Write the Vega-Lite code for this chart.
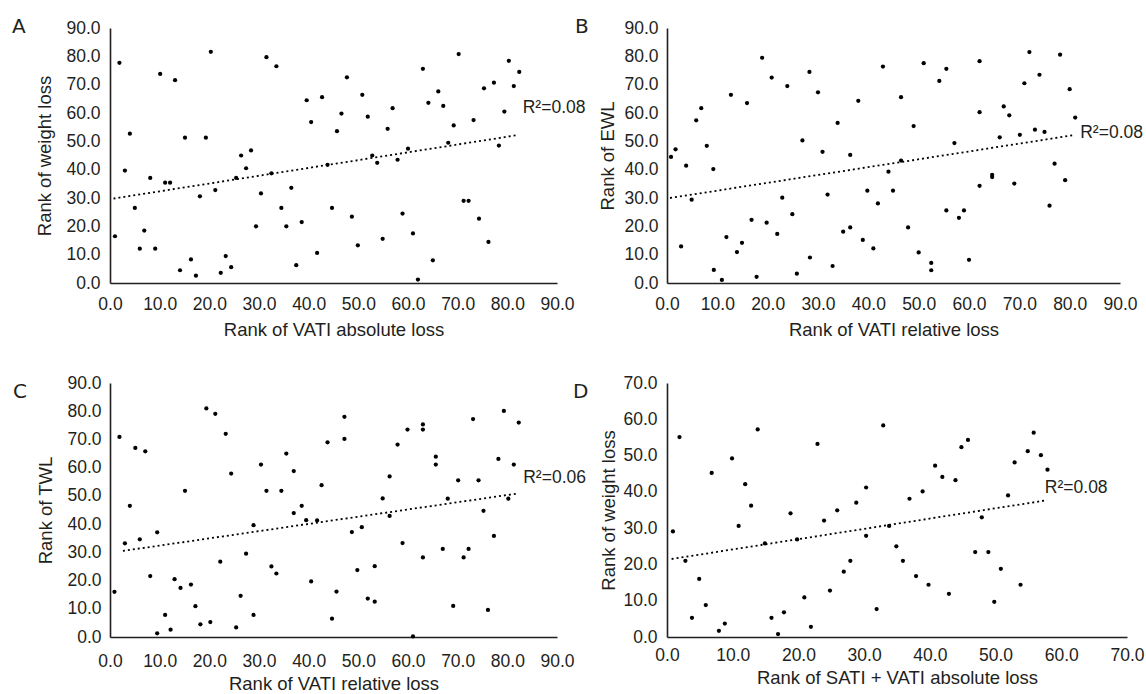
{
  "$schema": "https://vega.github.io/schema/vega-lite/v6.json",
  "autosize": {"type": "pad"},
  "padding": {"left": 12, "top": 17, "right": 0, "bottom": 0},
  "background": "white",
  "config": {
    "view": {"stroke": null},
    "axis": {"domainColor": "#231f20", "domainWidth": 1.6, "ticks": false, "tickSize": 0, "grid": false,
      "labelFont": "Liberation Sans", "labelFontSize": 17.5, "labelColor": "#231f20",
      "titleFont": "Liberation Sans", "titleFontSize": 18.5, "titleFontWeight": "normal", "titleColor": "#231f20",
      "format": ".1f", "labelFlush": false, "labelOverlap": false, "labelBound": false},
    "title": {"anchor": "start", "frame": "group", "font": "DejaVu Sans", "fontSize": 20, "fontWeight": "normal", "color": "#231f20", "offset": 0}
  },
  "datasets": {
    "A": [
      {"x":1.0,"y":16.5},{"x":1.9,"y":77.7},{"x":3.0,"y":39.7},{"x":4.0,"y":52.7},{"x":5.0,"y":26.5},{"x":6.0,"y":12.1},{"x":6.9,"y":18.5},{"x":8.1,"y":37.1},{"x":9.1,"y":12.1},{"x":10.1,"y":73.8},
      {"x":11.1,"y":35.4},{"x":12.1,"y":35.4},{"x":13.1,"y":71.6},{"x":14.1,"y":4.5},{"x":15.1,"y":51.3},{"x":16.3,"y":8.3},{"x":17.3,"y":2.6},{"x":18.1,"y":30.6},{"x":19.3,"y":51.3},{"x":20.3,"y":81.6},
      {"x":21.2,"y":32.8},{"x":22.3,"y":3.6},{"x":23.3,"y":9.5},{"x":24.4,"y":5.6},{"x":25.4,"y":37.1},{"x":26.4,"y":45.0},{"x":27.4,"y":40.5},{"x":28.4,"y":46.8},{"x":29.4,"y":20.0},{"x":30.4,"y":31.6},
      {"x":31.5,"y":79.7},{"x":32.5,"y":38.7},{"x":33.5,"y":76.5},{"x":34.5,"y":26.5},{"x":35.5,"y":20.0},{"x":36.5,"y":33.6},{"x":37.5,"y":6.3},{"x":38.6,"y":21.5},{"x":39.6,"y":64.5},{"x":40.5,"y":56.8},
      {"x":41.7,"y":10.6},{"x":42.7,"y":65.6},{"x":43.8,"y":41.7},{"x":44.7,"y":26.5},{"x":45.7,"y":53.6},{"x":46.6,"y":59.8},{"x":47.7,"y":72.6},{"x":48.7,"y":23.4},{"x":49.9,"y":13.3},{"x":50.8,"y":66.4},
      {"x":51.9,"y":58.7},{"x":52.8,"y":45.0},{"x":53.8,"y":42.4},{"x":54.9,"y":15.6},{"x":55.9,"y":54.4},{"x":56.9,"y":61.7},{"x":57.9,"y":43.5},{"x":58.9,"y":24.5},{"x":60.0,"y":47.4},{"x":61.0,"y":17.5},
      {"x":62.0,"y":1.2},{"x":63.0,"y":75.6},{"x":64.1,"y":63.6},{"x":65.0,"y":8.0},{"x":66.1,"y":67.6},{"x":67.1,"y":62.5},{"x":68.1,"y":49.5},{"x":69.2,"y":55.6},{"x":70.2,"y":80.8},{"x":71.2,"y":29.0},
      {"x":72.2,"y":29.0},{"x":73.2,"y":57.5},{"x":74.3,"y":22.7},{"x":75.3,"y":68.7},{"x":76.2,"y":14.5},{"x":77.3,"y":70.7},{"x":78.3,"y":48.5},{"x":79.4,"y":60.5},{"x":80.3,"y":78.4},{"x":81.3,"y":69.5},
      {"x":82.4,"y":74.5}
    ],
    "A_fit": [{"x":0.7,"y":29.8},{"x":81.7,"y":52.1}],
    "B": [
      {"x":0.8,"y":44.5},{"x":1.7,"y":47.2},{"x":2.8,"y":12.9},{"x":3.8,"y":41.4},{"x":4.9,"y":29.4},{"x":5.8,"y":57.4},{"x":6.8,"y":61.7},{"x":7.9,"y":48.4},{"x":9.2,"y":40.2},{"x":9.3,"y":4.6},
      {"x":10.9,"y":1.1},{"x":11.8,"y":16.2},{"x":12.7,"y":66.4},{"x":13.9,"y":10.9},{"x":14.9,"y":14.2},{"x":15.9,"y":63.5},{"x":16.8,"y":22.3},{"x":17.8,"y":2.2},{"x":18.9,"y":79.5},{"x":19.8,"y":21.3},
      {"x":20.8,"y":72.5},{"x":21.9,"y":17.3},{"x":22.9,"y":30.1},{"x":23.9,"y":69.5},{"x":24.9,"y":24.3},{"x":25.8,"y":3.3},{"x":26.9,"y":50.3},{"x":28.3,"y":74.5},{"x":28.4,"y":9.0},{"x":30.0,"y":67.3},
      {"x":30.9,"y":46.3},{"x":31.9,"y":31.2},{"x":32.9,"y":6.0},{"x":33.9,"y":56.5},{"x":35.0,"y":18.1},{"x":36.4,"y":19.6},{"x":36.4,"y":45.2},{"x":38.0,"y":64.3},{"x":38.9,"y":15.2},{"x":39.8,"y":32.6},
      {"x":41.0,"y":12.2},{"x":41.9,"y":28.1},{"x":42.9,"y":76.4},{"x":44.0,"y":39.3},{"x":44.9,"y":32.6},{"x":46.5,"y":65.6},{"x":46.5,"y":43.2},{"x":47.9,"y":19.6},{"x":49.0,"y":55.4},{"x":50.0,"y":10.8},
      {"x":51.0,"y":77.6},{"x":52.5,"y":7.1},{"x":52.5,"y":4.5},{"x":54.1,"y":71.3},{"x":55.5,"y":25.6},{"x":55.5,"y":75.6},{"x":57.1,"y":49.4},{"x":58.0,"y":23.0},{"x":59.0,"y":25.6},{"x":60.0,"y":8.2},
      {"x":62.1,"y":78.3},{"x":62.1,"y":60.3},{"x":62.1,"y":34.3},{"x":64.6,"y":38.2},{"x":64.6,"y":37.4},{"x":66.1,"y":51.4},{"x":66.9,"y":62.3},{"x":68.0,"y":59.2},{"x":69.0,"y":35.1},{"x":70.1,"y":52.3},
      {"x":71.0,"y":70.5},{"x":72.0,"y":81.5},{"x":73.1,"y":54.1},{"x":74.0,"y":73.5},{"x":75.0,"y":53.3},{"x":76.0,"y":27.3},{"x":77.0,"y":42.1},{"x":78.1,"y":80.6},{"x":79.1,"y":36.3},{"x":80.0,"y":68.4},
      {"x":81.1,"y":58.4}
    ],
    "B_fit": [{"x":0.6,"y":30.0},{"x":80.5,"y":52.1}],
    "C": [
      {"x":0.9,"y":16.0},{"x":1.9,"y":70.9},{"x":3.0,"y":33.2},{"x":4.0,"y":46.5},{"x":5.1,"y":67.0},{"x":6.0,"y":34.6},{"x":7.1,"y":65.8},{"x":8.1,"y":21.6},{"x":9.5,"y":37.1},{"x":9.5,"y":1.3},
      {"x":11.1,"y":7.8},{"x":12.2,"y":2.6},{"x":13.0,"y":20.5},{"x":14.2,"y":17.4},{"x":15.1,"y":51.8},{"x":16.3,"y":18.6},{"x":17.2,"y":10.9},{"x":18.2,"y":4.5},{"x":19.4,"y":81.0},{"x":20.2,"y":5.3},
      {"x":21.2,"y":79.1},{"x":22.2,"y":26.7},{"x":23.3,"y":72.0},{"x":24.4,"y":57.9},{"x":25.4,"y":3.4},{"x":26.3,"y":14.6},{"x":27.4,"y":29.5},{"x":28.9,"y":39.6},{"x":28.9,"y":7.8},{"x":30.4,"y":61.1},
      {"x":31.5,"y":51.8},{"x":32.5,"y":25.0},{"x":33.5,"y":22.5},{"x":34.5,"y":51.8},{"x":35.5,"y":65.0},{"x":37.0,"y":58.8},{"x":37.0,"y":43.9},{"x":38.6,"y":46.5},{"x":39.5,"y":41.4},{"x":40.5,"y":19.7},
      {"x":41.7,"y":41.3},{"x":42.6,"y":53.8},{"x":43.8,"y":69.0},{"x":44.7,"y":6.5},{"x":45.6,"y":16.1},{"x":47.2,"y":78.0},{"x":47.2,"y":70.2},{"x":48.7,"y":37.2},{"x":49.8,"y":23.7},{"x":50.7,"y":38.9},
      {"x":51.9,"y":13.6},{"x":53.3,"y":12.5},{"x":53.3,"y":25.1},{"x":54.9,"y":49.1},{"x":56.3,"y":56.9},{"x":56.3,"y":42.9},{"x":57.9,"y":68.2},{"x":58.9,"y":33.3},{"x":59.9,"y":73.5},{"x":61.0,"y":0.2},
      {"x":63.0,"y":75.3},{"x":63.0,"y":73.5},{"x":63.0,"y":28.2},{"x":65.6,"y":63.9},{"x":65.6,"y":61.1},{"x":67.0,"y":31.2},{"x":68.0,"y":49.0},{"x":69.1,"y":11.0},{"x":70.1,"y":55.5},{"x":71.2,"y":28.2},
      {"x":72.2,"y":31.2},{"x":73.1,"y":77.2},{"x":74.2,"y":55.5},{"x":75.2,"y":44.7},{"x":76.1,"y":9.6},{"x":77.3,"y":35.8},{"x":78.2,"y":63.1},{"x":79.3,"y":80.1},{"x":80.2,"y":49.0},{"x":81.3,"y":61.1},
      {"x":82.3,"y":76.0}
    ],
    "C_fit": [{"x":2.6,"y":30.5},{"x":81.9,"y":50.8}],
    "D": [
      {"x":0.9,"y":29.1},{"x":1.9,"y":55.1},{"x":2.8,"y":21.0},{"x":3.8,"y":5.3},{"x":4.9,"y":16.0},{"x":5.9,"y":8.8},{"x":6.8,"y":45.2},{"x":7.9,"y":1.7},{"x":8.8,"y":3.7},{"x":9.9,"y":49.2},
      {"x":10.9,"y":30.6},{"x":11.9,"y":42.1},{"x":12.8,"y":36.2},{"x":13.8,"y":57.2},{"x":14.9,"y":25.8},{"x":15.9,"y":5.3},{"x":16.9,"y":0.8},{"x":17.8,"y":6.8},{"x":18.8,"y":34.1},{"x":19.8,"y":26.9},
      {"x":20.9,"y":10.9},{"x":21.9,"y":2.8},{"x":22.9,"y":53.2},{"x":23.9,"y":32.1},{"x":24.8,"y":12.8},{"x":25.9,"y":34.9},{"x":26.9,"y":18.0},{"x":27.9,"y":21.0},{"x":28.8,"y":37.0},{"x":30.3,"y":41.2},
      {"x":30.3,"y":27.9},{"x":31.9,"y":7.7},{"x":32.9,"y":58.3},{"x":33.8,"y":30.6},{"x":34.9,"y":25.0},{"x":35.9,"y":21.0},{"x":36.9,"y":38.1},{"x":37.9,"y":16.8},{"x":38.9,"y":40.1},{"x":39.8,"y":14.4},
      {"x":40.8,"y":47.2},{"x":41.9,"y":44.1},{"x":42.9,"y":11.9},{"x":43.9,"y":43.2},{"x":44.8,"y":52.3},{"x":45.8,"y":54.3},{"x":46.9,"y":23.4},{"x":47.9,"y":33.0},{"x":48.9,"y":23.4},{"x":49.8,"y":9.7},
      {"x":50.8,"y":18.8},{"x":51.9,"y":39.0},{"x":52.9,"y":48.1},{"x":53.8,"y":14.4},{"x":54.9,"y":51.2},{"x":55.8,"y":56.3},{"x":56.9,"y":50.1},{"x":57.9,"y":46.1}
    ],
    "D_fit": [{"x":0.7,"y":21.5},{"x":57.5,"y":37.6}],
    "labels": [
      {"panel":"A","x":83.1,"y":61.8,"label":"R²=0.08"},
      {"panel":"B","x":82.1,"y":53.1,"label":"R²=0.08"},
      {"panel":"C","x":83.2,"y":56.4,"label":"R²=0.06"},
      {"panel":"D","x":57.5,"y":41.2,"label":"R²=0.08"}
    ]
  },
  "concat": [
    {
      "width": 447, "height": 255,
      "title": {"text": "A", "dx": -98, "dy": 22},
      "encoding": {
        "x": {"field": "x", "type": "quantitative", "scale": {"domain": [0, 90], "nice": false, "zero": false},
          "axis": {"title": "Rank of VATI absolute loss", "values": [0,10,20,30,40,50,60,70,80,90], "labelPadding": 12, "titlePadding": 8}},
        "y": {"field": "y", "type": "quantitative", "scale": {"domain": [0, 90], "nice": false, "zero": false},
          "axis": {"title": "Rank of weight loss", "values": [0,10,20,30,40,50,60,70,80,90], "labelPadding": 10, "titlePadding": 11}}
      },
      "layer": [
        {"data": {"name": "A"}, "mark": {"type": "circle", "size": 18, "color": "#000", "opacity": 1}},
        {"data": {"name": "A_fit"}, "mark": {"type": "line", "color": "#000", "strokeWidth": 1.8, "strokeDash": [2, 3]}, "encoding": {}},
        {"data": {"name": "labels"}, "transform": [{"filter": "datum.panel === 'A'"}],
          "mark": {"type": "text", "align": "left", "baseline": "middle", "fontSize": 17.5, "font": "Liberation Sans", "color": "#231f20"},
          "encoding": {"text": {"field": "label"}}}
      ]
    },
    {
      "width": 453, "height": 255,
      "title": {"text": "B", "dx": -92, "dy": 22},
      "encoding": {
        "x": {"field": "x", "type": "quantitative", "scale": {"domain": [0, 90], "nice": false, "zero": false},
          "axis": {"title": "Rank of VATI relative loss", "values": [0,10,20,30,40,50,60,70,80,90], "labelPadding": 12, "titlePadding": 8}},
        "y": {"field": "y", "type": "quantitative", "scale": {"domain": [0, 90], "nice": false, "zero": false},
          "axis": {"title": "Rank of EWL", "values": [0,10,20,30,40,50,60,70,80,90], "labelPadding": 9, "titlePadding": 6}}
      },
      "layer": [
        {"data": {"name": "B"}, "mark": {"type": "circle", "size": 18, "color": "#000", "opacity": 1}},
        {"data": {"name": "B_fit"}, "mark": {"type": "line", "color": "#000", "strokeWidth": 1.8, "strokeDash": [2, 3]}, "encoding": {}},
        {"data": {"name": "labels"}, "transform": [{"filter": "datum.panel === 'B'"}],
          "mark": {"type": "text", "align": "left", "baseline": "middle", "fontSize": 17.5, "font": "Liberation Sans", "color": "#231f20"},
          "encoding": {"text": {"field": "label"}}}
      ]
    },
    {
      "width": 447, "height": 254,
      "title": {"text": "C", "dx": -97, "dy": 32},
      "encoding": {
        "x": {"field": "x", "type": "quantitative", "scale": {"domain": [0, 90], "nice": false, "zero": false},
          "axis": {"title": "Rank of VATI relative loss", "values": [0,10,20,30,40,50,60,70,80,90], "labelPadding": 15, "titlePadding": 5}},
        "y": {"field": "y", "type": "quantitative", "scale": {"domain": [0, 90], "nice": false, "zero": false},
          "axis": {"title": "Rank of TWL", "values": [0,10,20,30,40,50,60,70,80,90], "labelPadding": 9, "titlePadding": 11}}
      },
      "layer": [
        {"data": {"name": "C"}, "mark": {"type": "circle", "size": 18, "color": "#000", "opacity": 1}},
        {"data": {"name": "C_fit"}, "mark": {"type": "line", "color": "#000", "strokeWidth": 1.8, "strokeDash": [2, 3]}, "encoding": {}},
        {"data": {"name": "labels"}, "transform": [{"filter": "datum.panel === 'C'"}],
          "mark": {"type": "text", "align": "left", "baseline": "middle", "fontSize": 17.5, "font": "Liberation Sans", "color": "#231f20"},
          "encoding": {"text": {"field": "label"}}}
      ]
    },
    {
      "width": 460, "height": 254,
      "title": {"text": "D", "dx": -94, "dy": 32},
      "encoding": {
        "x": {"field": "x", "type": "quantitative", "scale": {"domain": [0, 70], "nice": false, "zero": false},
          "axis": {"title": "Rank of SATI + VATI absolute loss", "values": [0,10,20,30,40,50,60,70], "labelPadding": 9, "titlePadding": 5}},
        "y": {"field": "y", "type": "quantitative", "scale": {"domain": [0, 70], "nice": false, "zero": false},
          "axis": {"title": "Rank of weight loss", "values": [0,10,20,30,40,50,60,70], "labelPadding": 10, "titlePadding": 4}}
      },
      "layer": [
        {"data": {"name": "D"}, "mark": {"type": "circle", "size": 18, "color": "#000", "opacity": 1}},
        {"data": {"name": "D_fit"}, "mark": {"type": "line", "color": "#000", "strokeWidth": 1.8, "strokeDash": [2, 3]}, "encoding": {}},
        {"data": {"name": "labels"}, "transform": [{"filter": "datum.panel === 'D'"}],
          "mark": {"type": "text", "align": "left", "baseline": "middle", "fontSize": 17.5, "font": "Liberation Sans", "color": "#231f20"},
          "encoding": {"text": {"field": "label"}}}
      ]
    }
  ],
  "columns": 2,
  "spacing": {"row": 100, "column": 110},
  "bounds": "flush"
}
